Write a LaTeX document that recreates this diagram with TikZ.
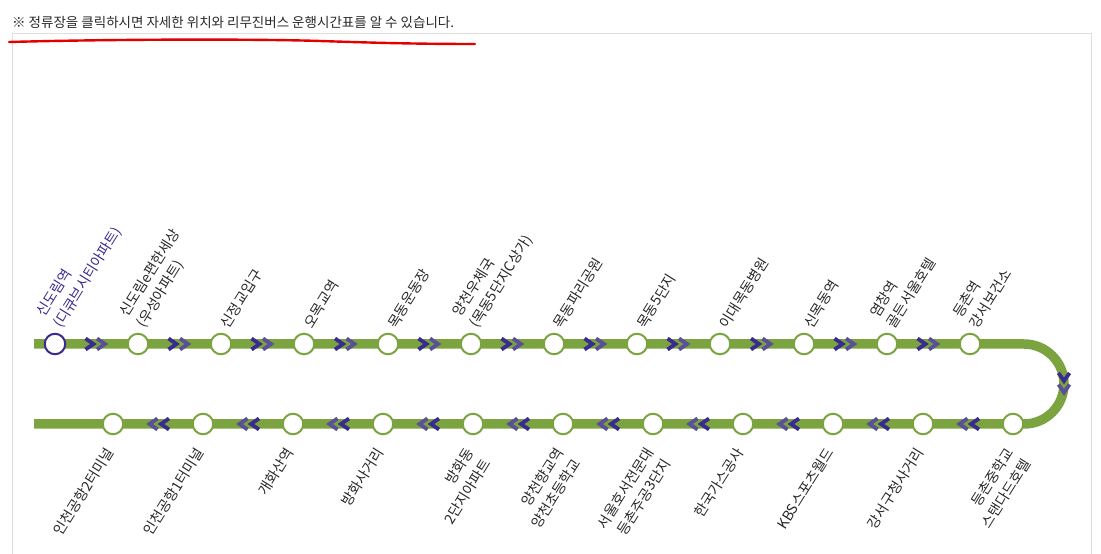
\documentclass[tikz,border=0pt]{standalone}
\usepackage{fontspec}
\setmainfont{Noto Sans CJK KR}
\usetikzlibrary{calc,backgrounds}
\definecolor{linegreen}{HTML}{7BA440}
\definecolor{darkviolet}{HTML}{3A2C8E}
\definecolor{lightviolet}{HTML}{5B5097}
\definecolor{labelgray}{HTML}{282828}
\tikzset{
  busline/.style={line width=9.5pt, draw=linegreen},
  busstop/.style={circle, draw=linegreen, fill=white, line width=2pt, minimum size=20.5pt, inner sep=0pt},
  startstop/.style={busstop, draw=darkviolet},
  uplabel/.style={rotate=58, anchor=south west, align=left, inner sep=0pt, text=labelgray, font=\fontsize{14.2}{20}\selectfont},
  downlabel/.style={rotate=58, anchor=north east, align=right, inner sep=0pt, text=labelgray, font=\fontsize{14.2}{20}\selectfont},
  chevrons/.pic={
    \draw [lightviolet, line width=3.8pt] (0.5,5.5) -- (8.5,0) -- (0.5,-5.5);
    \draw [darkviolet, line width=3.8pt] (-11,5.5) -- (-3,0) -- (-11,-5.5);
  },
}
\begin{document}
\begin{tikzpicture}[x=1pt, y=1pt]
\useasboundingbox (0,0) rectangle (1101,554);

%\draw [lightgray, dashed](0,0) grid (1101,554);

\node [inner sep=0pt, anchor=west, text=labelgray, font=\fontsize{13.5}{16}\selectfont] (note) at (12,532) {※ 정류장을 클릭하시면 자세한 위치와 리무진버스 운행시간표를 알 수 있습니다.};

\draw [black!13] (12,0) -- (12,521) -- (1091,521) -- (1091,0);
\draw [red!90!black, line width=2.4pt, line cap=round] (9,512) .. controls (120,515) and (260,515) .. (320,513) .. controls (380,511) and (420,510) .. (475,510);

% upper row
\node [startstop] (U1) at (55,210) {};
\node [busstop] (U2) at (138,210) {};
\node [busstop] (U3) at (221,210) {};
\node [busstop] (U4) at (304,210) {};
\node [busstop] (U5) at (388,210) {};
\node [busstop] (U6) at (471,210) {};
\node [busstop] (U7) at (554,210) {};
\node [busstop] (U8) at (637,210) {};
\node [busstop] (U9) at (720,210) {};
\node [busstop] (U10) at (804,210) {};
\node [busstop] (U11) at (887,210) {};
\node [busstop] (U12) at (970,210) {};

% lower row
\node [busstop] (D1) at (1013,130) {};
\node [busstop] (D2) at (923,130) {};
\node [busstop] (D3) at (833,130) {};
\node [busstop] (D4) at (743,130) {};
\node [busstop] (D5) at (653,130) {};
\node [busstop] (D6) at (563,130) {};
\node [busstop] (D7) at (473,130) {};
\node [busstop] (D8) at (383,130) {};
\node [busstop] (D9) at (293,130) {};
\node [busstop] (D10) at (203,130) {};
\node [busstop] (D11) at (113,130) {};

\coordinate (start) at (34,210);
\coordinate (bendin) at (1024,210);
\coordinate (bendmid) at (1064,170);
\coordinate (finish) at (34,130);

\begin{scope}[on background layer]
\draw [busline] (start) -- (bendin) arc [start angle=90, end angle=-90, radius=40] -- (finish);
\end{scope}

\pic at ($(U1)!.5!(U2)$) {chevrons};
\pic at ($(U2)!.5!(U3)$) {chevrons};
\pic at ($(U3)!.5!(U4)$) {chevrons};
\pic at ($(U4)!.5!(U5)$) {chevrons};
\pic at ($(U5)!.5!(U6)$) {chevrons};
\pic at ($(U6)!.5!(U7)$) {chevrons};
\pic at ($(U7)!.5!(U8)$) {chevrons};
\pic at ($(U8)!.5!(U9)$) {chevrons};
\pic at ($(U9)!.5!(U10)$) {chevrons};
\pic at ($(U10)!.5!(U11)$) {chevrons};
\pic at ($(U11)!.5!(U12)$) {chevrons};
\pic [rotate=-90] at (bendmid) {chevrons};
\pic [rotate=180] at ($(D1)!.5!(D2)$) {chevrons};
\pic [rotate=180] at ($(D2)!.5!(D3)$) {chevrons};
\pic [rotate=180] at ($(D3)!.5!(D4)$) {chevrons};
\pic [rotate=180] at ($(D4)!.5!(D5)$) {chevrons};
\pic [rotate=180] at ($(D5)!.5!(D6)$) {chevrons};
\pic [rotate=180] at ($(D6)!.5!(D7)$) {chevrons};
\pic [rotate=180] at ($(D7)!.5!(D8)$) {chevrons};
\pic [rotate=180] at ($(D8)!.5!(D9)$) {chevrons};
\pic [rotate=180] at ($(D9)!.5!(D10)$) {chevrons};
\pic [rotate=180] at ($(D10)!.5!(D11)$) {chevrons};

\node [uplabel, text=darkviolet] (LU1) at ($(U1)+(9,14)$) {신도림역\\(디큐브시티아파트)};
\node [uplabel] (LU2) at ($(U2)+(9,14)$) {신도림e편한세상\\(우성아파트)};
\node [uplabel] (LU3) at ($(U3)+(9,14)$) {신정교입구};
\node [uplabel] (LU4) at ($(U4)+(9,14)$) {오목교역};
\node [uplabel] (LU5) at ($(U5)+(9,14)$) {목동운동장};
\node [uplabel] (LU6) at ($(U6)+(9,14)$) {양천우체국\\(목동5단지C상가)};
\node [uplabel] (LU7) at ($(U7)+(9,14)$) {목동파리공원};
\node [uplabel] (LU8) at ($(U8)+(9,14)$) {목동5단지};
\node [uplabel] (LU9) at ($(U9)+(9,14)$) {이대목동병원};
\node [uplabel] (LU10) at ($(U10)+(9,14)$) {신목동역};
\node [uplabel] (LU11) at ($(U11)+(9,14)$) {염창역\\골든서울호텔};
\node [uplabel] (LU12) at ($(U12)+(9,14)$) {등촌역\\강서보건소};

\node [downlabel] (LD1) at ($(D1)+(-9,-22)$) {등촌중학교\\스탠다드호텔};
\node [downlabel] (LD2) at ($(D2)+(-9,-22)$) {강서구청사거리};
\node [downlabel] (LD3) at ($(D3)+(-9,-22)$) {KBS스포츠월드};
\node [downlabel] (LD4) at ($(D4)+(-9,-22)$) {한국가스공사};
\node [downlabel] (LD5) at ($(D5)+(-9,-22)$) {서울호서전문대\\등촌주공3단지};
\node [downlabel] (LD6) at ($(D6)+(-9,-22)$) {양천향교역\\양천초등학교};
\node [downlabel] (LD7) at ($(D7)+(-9,-22)$) {방화동\\2단지아파트};
\node [downlabel] (LD8) at ($(D8)+(-9,-22)$) {방화사거리};
\node [downlabel] (LD9) at ($(D9)+(-9,-22)$) {개화산역};
\node [downlabel] (LD10) at ($(D10)+(-9,-22)$) {인천공항1터미널};
\node [downlabel] (LD11) at ($(D11)+(-9,-22)$) {인천공항2터미널};

\end{tikzpicture}
\end{document}
